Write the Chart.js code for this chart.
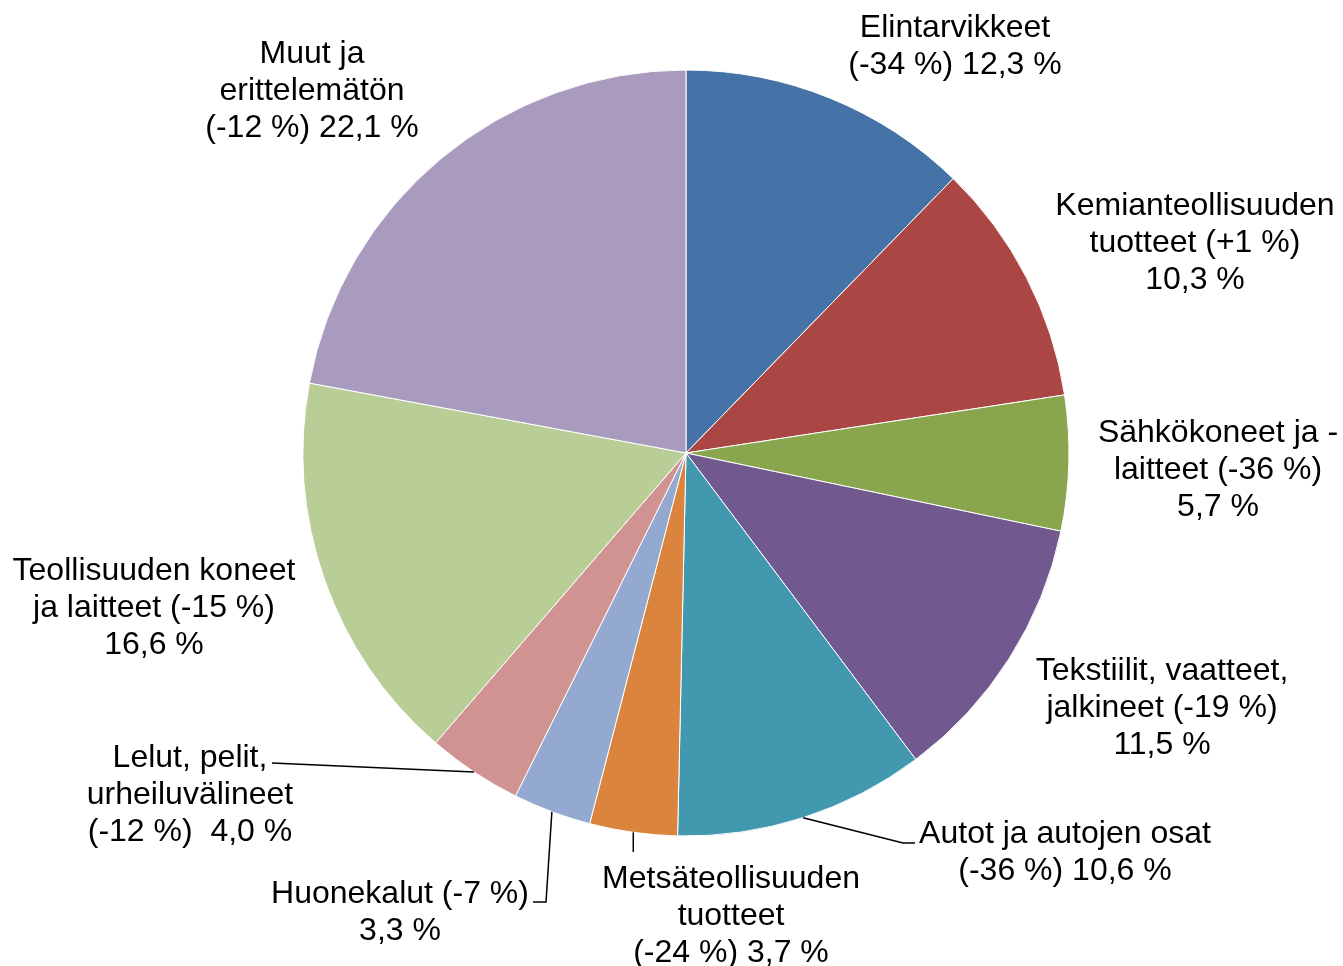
<!DOCTYPE html>
<html lang="fi">
<head>
<meta charset="utf-8">
<title>Tuonti tavararyhmittäin</title>
<script src="https://cdn.jsdelivr.net/npm/chart.js@4/dist/chart.umd.min.js"></script>
<style>
  html, body { margin: 0; padding: 0; background: #fff; }
  #wrap { position: relative; width: 1343px; height: 966px; }
</style>
</head>
<body>
<div id="wrap"><canvas id="chartPie"></canvas></div>
<script>
'use strict';

/* ─── DATA ───────────────────────────────────────────────── */
const categories = [
  'Elintarvikkeet',
  'Kemianteollisuuden tuotteet',
  'Sähkökoneet ja -laitteet',
  'Tekstiilit, vaatteet, jalkineet',
  'Autot ja autojen osat',
  'Metsäteollisuuden tuotteet',
  'Huonekalut',
  'Lelut, pelit, urheiluvälineet',
  'Teollisuuden koneet ja laitteet',
  'Muut ja erittelemätön',
];
const shares  = [12.3, 10.3, 5.7, 11.5, 10.6, 3.7, 3.3, 4.0, 16.6, 22.1];
const changes = [-34, 1, -36, -19, -36, -24, -7, -12, -15, -12];

// wrapped label lines, {c} = change, {v} = share
const labelLines = [
  ['Elintarvikkeet', '({c} %) {v} %'],
  ['Kemianteollisuuden', 'tuotteet ({c} %)', '{v} %'],
  ['Sähkökoneet ja -', 'laitteet ({c} %)', '{v} %'],
  ['Tekstiilit, vaatteet,', 'jalkineet ({c} %)', '{v} %'],
  ['Autot ja autojen osat', '({c} %) {v} %'],
  ['Metsäteollisuuden', 'tuotteet', '({c} %) {v} %'],
  ['Huonekalut ({c} %)', '{v} %'],
  ['Lelut, pelit,', 'urheiluvälineet', '({c} %)  {v} %'],
  ['Teollisuuden koneet', 'ja laitteet ({c} %)', '{v} %'],
  ['Muut ja', 'erittelemätön', '({c} %) {v} %'],
];

const COLORS = ['#4572A7', '#AA4643', '#89A54E', '#71588F', '#4198AF',
                '#DB843D', '#93A9CF', '#D19392', '#B9CD96', '#A99BBD'];

/* ─── LABEL LAYOUT ───────────────────────────────────────── */
// x = centre of text, y = first baseline, leader = elbow points after the arc edge
const LABEL_POS = [
  { x: 955,  y: 37 },
  { x: 1195, y: 215 },
  { x: 1218, y: 442 },
  { x: 1162, y: 680 },
  { x: 1065, y: 843, leader: [[903, 843], [915, 843]] },
  { x: 731,  y: 888, leader: [[633, 852]], vertical: true },
  { x: 400,  y: 903, leader: [[546, 902], [533, 902]] },
  { x: 190,  y: 767, leader: [[272, 763]] },
  { x: 154,  y: 580 },
  { x: 312,  y: 63 },
];
const LINE_H = 36.8;
const FONT = '32px "Liberation Sans", Arial, sans-serif';

const fmtNum = v => v.toFixed(1).replace('.', ',');
const fmtChg = c => (c > 0 ? '+' : '') + c;

const pieLabels = {
  id: 'pieLabels',
  afterDatasetsDraw(chart) {
    const ctx = chart.ctx;
    const arcs = chart.getDatasetMeta(0).data;
    ctx.save();

    // leader lines
    ctx.strokeStyle = '#000';
    ctx.lineWidth = 1.5;
    arcs.forEach((arc, i) => {
      const pos = LABEL_POS[i];
      if (!pos.leader) return;
      const p = arc.getProps(['x', 'y', 'startAngle', 'endAngle', 'outerRadius'], true);
      const mid = (p.startAngle + p.endAngle) / 2;
      const sx = p.x + Math.cos(mid) * p.outerRadius;
      const sy = p.y + Math.sin(mid) * p.outerRadius;
      ctx.beginPath();
      ctx.moveTo(sx, sy);
      pos.leader.forEach(([lx, ly]) => ctx.lineTo(pos.vertical ? sx : lx, ly));
      ctx.stroke();
    });

    // texts
    ctx.fillStyle = '#000';
    ctx.font = FONT;
    ctx.textAlign = 'center';
    ctx.textBaseline = 'alphabetic';
    labelLines.forEach((lines, i) => {
      const pos = LABEL_POS[i];
      lines.forEach((tpl, k) => {
        const txt = tpl.replace('{c}', fmtChg(changes[i])).replace('{v}', fmtNum(shares[i]));
        ctx.fillText(txt, pos.x, pos.y + k * LINE_H);
      });
    });
    ctx.restore();
  },
};

/* ─── PIE ────────────────────────────────────────────────── */
new Chart(document.getElementById('chartPie'), {
  type: 'pie',
  data: {
    labels: categories,
    datasets: [{
      data: shares,
      backgroundColor: COLORS,
      borderColor: '#fff',
      borderWidth: 1,
      hoverOffset: 0,
    }],
  },
  options: {
    responsive: true,
    maintainAspectRatio: false,
    animation: false,
    events: [],
    layout: { padding: { top: 69.5, bottom: 129.5, left: 200, right: 171 } },
    plugins: {
      legend: { display: false },
      tooltip: { enabled: false },
    },
  },
  plugins: [pieLabels],
});
</script>
</body>
</html>
